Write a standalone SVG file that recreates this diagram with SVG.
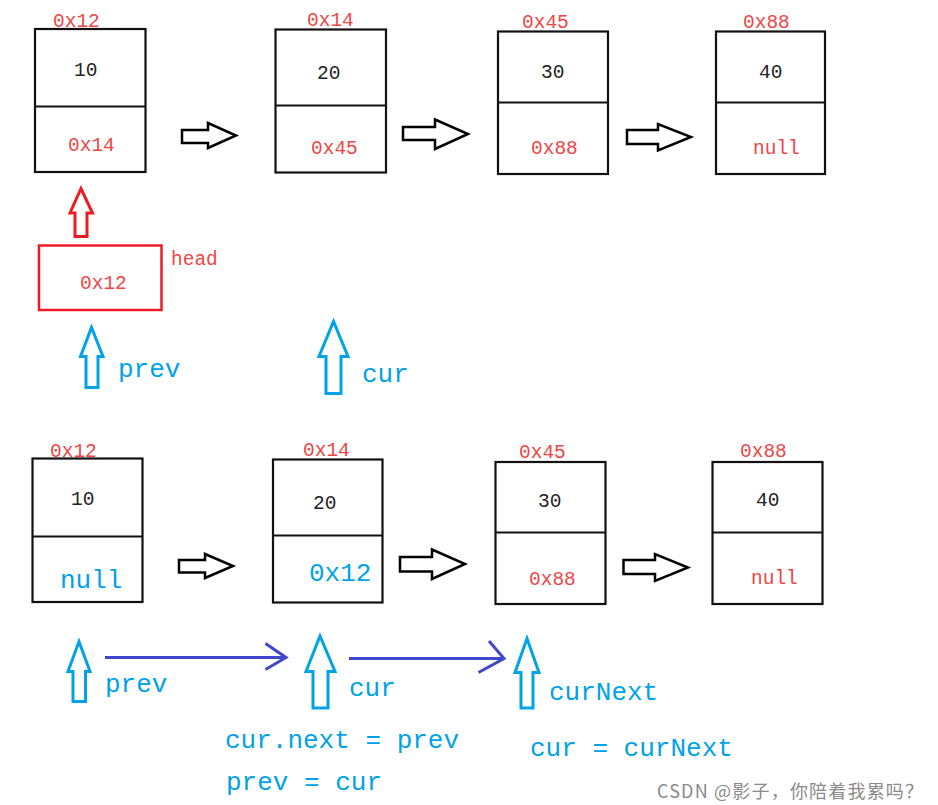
<svg xmlns="http://www.w3.org/2000/svg" width="938" height="805" viewBox="0 0 938 805">
<style>
.box{fill:#fff;stroke:#111;stroke-width:2.2}
.div{stroke:#111;stroke-width:2}
.harrow{fill:#fff;stroke:#000;stroke-width:2.5;stroke-linejoin:miter}
.barrow{fill:#fff;stroke:#00a2e8;stroke-width:3}
.rarrow{fill:#fff;stroke:#ed1c24;stroke-width:3}
.line{fill:none;stroke:#3f48cc;stroke-width:3}
.t{font-family:"Liberation Mono",monospace;font-size:19.5px}
.red{fill:#f04545}
.blk{fill:#222}
.blue{fill:#00a2e8;font-family:"Liberation Mono",monospace;font-size:26px}
.wm{font-family:"Noto Sans CJK SC","Noto Sans",sans-serif;font-size:18px;fill:#8a8a8a}
</style>
<rect width="938" height="805" fill="#fff"/>

<!-- top row -->
<g id="n1">
<rect class="box" x="35" y="29" width="110.5" height="143"/>
<line class="div" x1="35" y1="106.5" x2="145.5" y2="106.5"/>
<text class="t red" x="53" y="27">0x12</text>
<text class="t blk" x="74" y="76">10</text>
<text class="t red" x="68" y="151">0x14</text>
</g>
<g id="n2">
<rect class="box" x="275.5" y="29.5" width="110.5" height="143"/>
<line class="div" x1="275.5" y1="105.5" x2="386" y2="105.5"/>
<text class="t red" x="307" y="26">0x14</text>
<text class="t blk" x="317" y="79">20</text>
<text class="t red" x="311" y="154">0x45</text>
</g>
<g id="n3">
<rect class="box" x="498" y="31.5" width="110" height="142.5"/>
<line class="div" x1="498" y1="102.5" x2="608" y2="102.5"/>
<text class="t red" x="522" y="28">0x45</text>
<text class="t blk" x="541" y="78">30</text>
<text class="t red" x="531" y="154">0x88</text>
</g>
<g id="n4">
<rect class="box" x="716" y="31.5" width="109" height="142.5"/>
<line class="div" x1="716" y1="102.5" x2="825" y2="102.5"/>
<text class="t red" x="743" y="28">0x88</text>
<text class="t blk" x="759" y="78">40</text>
<text class="t red" x="753" y="154">null</text>
</g>

<g id="head">
<rect x="39" y="245.5" width="122.5" height="64.5" fill="#fff" stroke="#ed1c24" stroke-width="2.5"/>
<text class="t red" x="80" y="289">0x12</text>
<text class="t red" x="171" y="265">head</text>
</g>

<g id="pointers-top">
<polygon class="barrow" points="86,387.5 86,356.5 80.5,356.5 91.5,327.5 103,356.5 98,356.5 98,387.5"/>
<text class="blue" x="118" y="377">prev</text>
<polygon class="barrow" points="326,393.5 326,356.5 319,356.5 333.5,321.5 348,356.5 341,356.5 341,393.5"/>
<text class="blue" x="362" y="382">cur</text>
</g>

<!-- bottom row -->
<g id="m1">
<rect class="box" x="32.5" y="458.5" width="110" height="143.5"/>
<line class="div" x1="32.5" y1="536.5" x2="142.5" y2="536.5"/>
<text class="t red" x="50" y="457">0x12</text>
<text class="t blk" x="71" y="505">10</text>
<text class="blue" x="60" y="588">null</text>
</g>
<g id="m2">
<rect class="box" x="273" y="459.5" width="109.5" height="143"/>
<line class="div" x1="273" y1="535.5" x2="382.5" y2="535.5"/>
<text class="t red" x="303" y="456">0x14</text>
<text class="t blk" x="313" y="509">20</text>
<text class="blue" x="309" y="581">0x12</text>
</g>
<g id="m3">
<rect class="box" x="495.5" y="462" width="110" height="142"/>
<line class="div" x1="495.5" y1="532.5" x2="605.5" y2="532.5"/>
<text class="t red" x="519" y="458">0x45</text>
<text class="t blk" x="538" y="507">30</text>
<text class="t red" x="529" y="585">0x88</text>
</g>
<g id="m4">
<rect class="box" x="712.5" y="462" width="110" height="142"/>
<line class="div" x1="712.5" y1="532.5" x2="822.5" y2="532.5"/>
<text class="t red" x="740" y="457">0x88</text>
<text class="t blk" x="756" y="506">40</text>
<text class="t red" x="751" y="584">null</text>
</g>

<g id="pointers-bottom">
<polygon class="barrow" points="73,701.5 73,671.5 68,671.5 79,641.5 90,671.5 85.5,671.5 85.5,701.5"/>
<text class="blue" x="105" y="692">prev</text>
<polygon class="barrow" points="313,708 313,671.5 306,671.5 320,636 335,671.5 328,671.5 328,708"/>
<text class="blue" x="349" y="696">cur</text>
<polygon class="barrow" points="521,708 521,672.5 515,672.5 527,638.5 539,672.5 533,672.5 533,708"/>
<text class="blue" x="549" y="700">curNext</text>
<text class="blue" x="225" y="748">cur.next = prev</text>
<text class="blue" x="226" y="790">prev = cur</text>
<text class="blue" x="530" y="756">cur = curNext</text>
</g>

<g id="connectors">
<polygon class="harrow" points="182,130 208,130 208,123 236,135.5 208,148 208,143 182,143"/>
<polygon class="harrow" points="403,127 435,127 435,119.5 468,134 435,149 435,140 403,140"/>
<polygon class="harrow" points="627,130 658,130 658,124 691,137 658,150.5 658,144 627,144"/>
<polygon class="harrow" points="179,560 205,560 205,554 233,566 205,578 205,572.5 179,572.5"/>
<polygon class="harrow" points="400,557 432,557 432,549.5 465,564 432,579 432,571.5 400,571.5"/>
<polygon class="harrow" points="623.5,560 655,560 655,554 688,567.5 655,581 655,574 623.5,574"/>
<polygon class="rarrow" points="75,236.5 75,213 70,213 81,188.5 92.5,213 87,213 87,236.5"/>
<line class="line" x1="105" y1="657.5" x2="286" y2="657.5"/>
<polyline class="line" points="265.5,643.5 286,657.5 265.5,669.5"/>
<line class="line" x1="349" y1="658.5" x2="504" y2="658.5"/>
<polyline class="line" points="489,641 504,658.5 478.5,672.5"/>
</g>

<text class="wm" x="657" y="798" textLength="266" lengthAdjust="spacing">CSDN @影子，你陪着我累吗？</text>
</svg>
